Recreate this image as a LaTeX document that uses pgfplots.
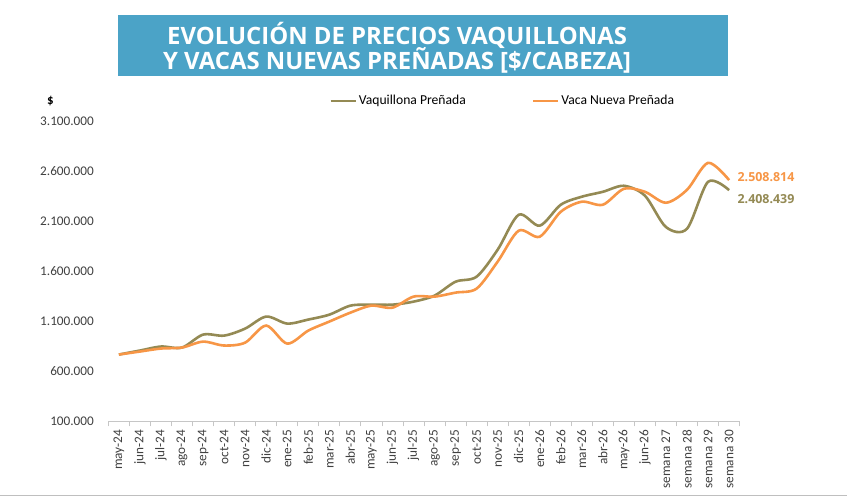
\documentclass[border=0pt]{standalone}
\usepackage{pgfplots}
\pgfplotsset{compat=1.18}
\usepackage{fontspec}
\setmainfont{Carlito}
\newfontfamily\titlefont{Open Sans}
\definecolor{oliv}{HTML}{948A54}
\definecolor{orng}{HTML}{F79646}
\definecolor{bann}{HTML}{4BA3C7}
\definecolor{txt}{HTML}{404040}
\begin{document}
\begin{tikzpicture}[x=1bp,y=1bp]
\fill[white] (0,0) rectangle (847,498);
\fill[bann] (118,422) rectangle (728,483);
\node[anchor=base, text=white, inner sep=0, font=\titlefont\bfseries\fontsize{24}{25}\selectfont] at (397,453) {EVOLUCIÓN DE PRECIOS VAQUILLONAS};
\node[anchor=base, text=white, inner sep=0, font=\titlefont\bfseries\fontsize{24}{25}\selectfont] at (397,428) {Y VACAS NUEVAS PREÑADAS [\$/CABEZA]};
\node[font=\bfseries\fontsize{13}{13}\selectfont, text=black] at (50,397) {\$};
\draw[gray!50, line width=1bp] (0,2) -- (847,2);
\begin{axis}[
  at={(108bp,76bp)}, anchor=south west,
  width=632bp, height=301bp, scale only axis,
  xmin=-0.5, xmax=29.5, ymin=100000, ymax=3100000,
  clip=false,
  axis x line*=bottom, axis y line*=left,
  y axis line style={draw=none},
  x axis line style={gray!45, line width=0.8bp},
  ytick={100000,600000,1100000,1600000,2100000,2600000,3100000},
  ytick style={draw=none},
  scaled y ticks=false,
  /pgf/number format/.cd, fixed, 1000 sep={.}, assume math mode=true,
  /pgfplots/.cd,
  yticklabel style={font=\fontsize{13.3}{13.3}\selectfont, text=txt, xshift=-6bp},
  xtick={0,...,29},
  xticklabels={may-24,jun-24,jul-24,ago-24,sep-24,oct-24,nov-24,dic-24,ene-25,feb-25,mar-25,abr-25,may-25,jun-25,jul-25,ago-25,sep-25,oct-25,nov-25,dic-25,ene-26,feb-26,mar-26,abr-26,may-26,jun-26,semana 27,semana 28,semana 29,semana 30},
  xticklabel style={rotate=90, anchor=east, font=\fontsize{13.3}{13.3}\selectfont, text=txt, yshift=0bp},
  major x tick style={draw=none},
  minor xtick={-0.5,0.5,...,29.5},
  minor x tick style={gray!45, line width=0.8bp},
  tick align=outside,
  minor tick length=5bp,
  major tick length=5bp,
  legend style={at={(0.345,1.066)}, anchor=west, draw=none, fill=none, legend columns=2,
    font=\fontsize{13.7}{13.7}\selectfont, text=black,
    /tikz/every even column/.append style={column sep=64bp}},
  legend image code/.code={\draw[#1] (0bp,0bp) -- (25bp,0bp);},
  every axis plot/.append style={line width=2.6bp, smooth, tension=0.5},
]
\addplot[oliv] coordinates {(0,768000)(1,808000)(2,848000)(3,838000)(4,967000)(5,957000)(6,1027000)(7,1147000)(8,1077000)(9,1117000)(10,1166000)(11,1256000)(12,1266000)(13,1266000)(14,1296000)(15,1356000)(16,1495000)(17,1545000)(18,1814000)(19,2163000)(20,2054000)(21,2263000)(22,2343000)(23,2392000)(24,2452000)(25,2353000)(26,2040000)(27,2024000)(28,2492000)(29,2408439)};
\addlegendentry{Vaquillona Preñada}
\addplot[orng] coordinates {(0,768000)(1,798000)(2,828000)(3,838000)(4,897000)(5,858000)(6,887000)(7,1057000)(8,877000)(9,1007000)(10,1097000)(11,1186000)(12,1256000)(13,1236000)(14,1346000)(15,1346000)(16,1386000)(17,1426000)(18,1695000)(19,2004000)(20,1944000)(21,2193000)(22,2293000)(23,2263000)(24,2422000)(25,2392000)(26,2283000)(27,2412000)(28,2681000)(29,2508814)};
\addlegendentry{Vaca Nueva Preñada}
\node[anchor=west, text=orng, font=\titlefont\bfseries\fontsize{12.5}{12.5}\selectfont, xshift=5bp, yshift=3bp] at (axis cs:29,2508814) {2.508.814};
\node[anchor=west, text=oliv, font=\titlefont\bfseries\fontsize{12.5}{12.5}\selectfont, xshift=5bp, yshift=-9bp] at (axis cs:29,2408439) {2.408.439};
\end{axis}
\end{tikzpicture}
\end{document}
